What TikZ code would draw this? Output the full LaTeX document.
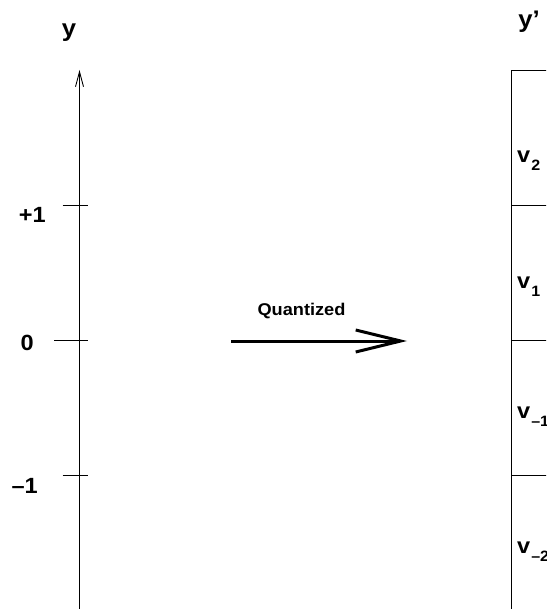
\documentclass[tikz,border=0pt]{standalone}
\usepackage{fontspec}
\setmainfont[FakeStretch=1.07]{Liberation Sans}
\usetikzlibrary{arrows.meta,positioning}
\newcommand{\vlab}[1]{v\kern1pt\raisebox{-8pt}{\fontsize{15}{15}\selectfont #1}}

\begin{document}
\begin{tikzpicture}[x=1pt, y=-1pt,
    lbl/.style={font=\fontsize{22}{22}\selectfont\bfseries, inner sep=0pt},
    axlbl/.style={font=\fontsize{24}{24}\selectfont\bfseries, inner sep=0pt, anchor=base},
    tick/.style={line width=0.8pt}]
    \useasboundingbox (0,0) rectangle (546,609);
    \clip (0,0) rectangle (546,609);

    % Achse y
    \coordinate (ybot) at (79.5,612);
    \coordinate (ytop) at (79.5,70);
    \draw[-{Straight Barb[length=15pt,width=8pt]}, line width=0.9pt] (ybot) -- (ytop);
    \node[axlbl] (ylab) at (69,37) {y};
    \draw[tick] (62.5,205) -- (88,205);
    \draw[tick] (54,340) -- (88,340);
    \draw[tick] (62.5,475) -- (88,475);
    \node[lbl, anchor=base east] (pone) at (46,223) {+1};
    \node[lbl, anchor=base east] (zero) at (34,350) {0};
    \node[lbl, anchor=base east] (mone) at (38,493) {--1};

    % Pfeil
    \coordinate (qstart) at (231,341);
    \coordinate (qend) at (407,341);
    \draw[-{Straight Barb[length=45pt,width=22pt]}, line width=3pt] (qstart) -- (qend);
    \node[font=\fontsize{17}{17}\selectfont\bfseries, inner sep=0pt, anchor=base] (quant) at (301.5,315) {Quantized};

    % Stufen y'
    \node[axlbl] (yq) at (529,28) {y'};
    \draw[line width=0.9pt] (511,612) -- (511,70) -- (560,70);
    \draw[tick] (511,205) -- (560,205);
    \draw[tick] (511,340) -- (560,340);
    \draw[tick] (511,475) -- (560,475);
    \node[lbl, anchor=base west] (vtwo) at (517,163) {\vlab{2}};
    \node[lbl, anchor=base west] (vone) at (517,288) {\vlab{1}};
    \node[lbl, anchor=base west] (vmone) at (517,418) {\vlab{--1}};
    \node[lbl, anchor=base west] (vmtwo) at (517,553) {\vlab{--2}};
\end{tikzpicture}
\end{document}
